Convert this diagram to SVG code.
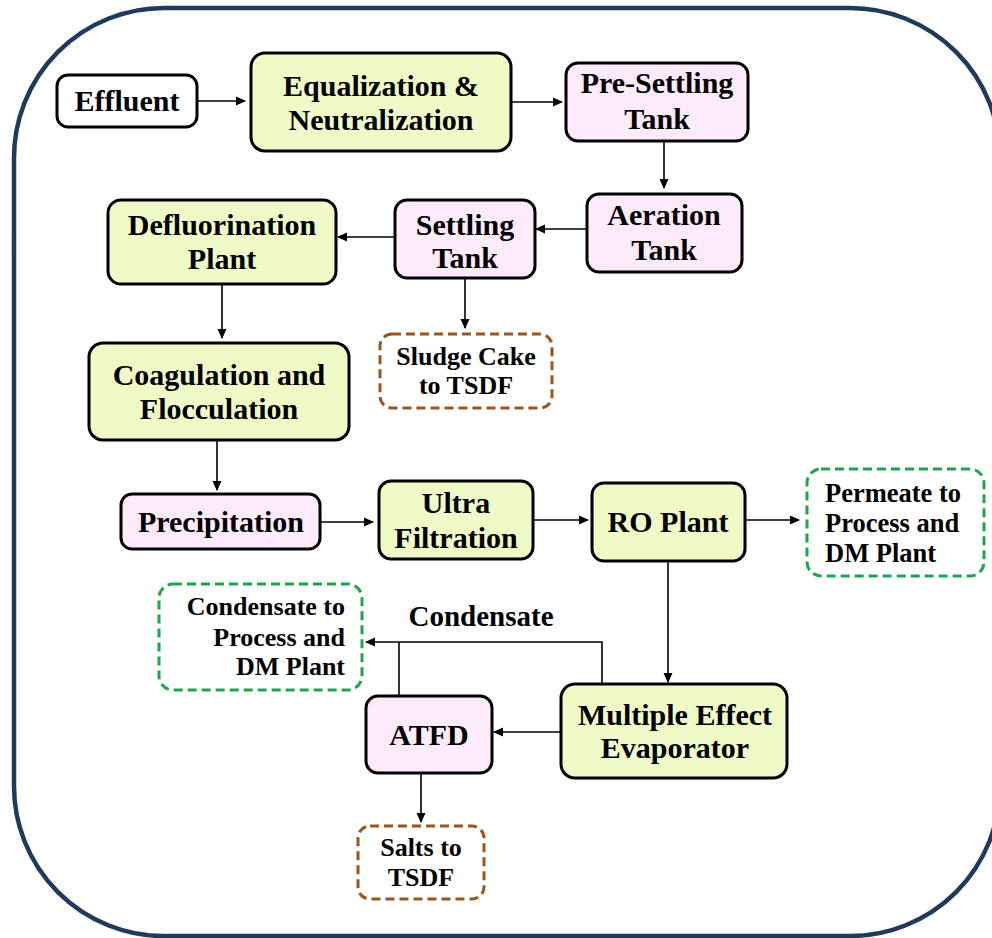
<svg xmlns="http://www.w3.org/2000/svg" width="992" height="938" viewBox="0 0 992 938">
<defs>
<marker id="ah" markerUnits="userSpaceOnUse" markerWidth="10" markerHeight="10" viewBox="0 0 10 10" refX="9" refY="5" orient="auto">
<path d="M0,0.5 L10,5 L0,9.5 Z" fill="#000"/>
</marker>
<style>
.box{stroke:#000;stroke-width:3}
.g{fill:#effac6}
.p{fill:#fdebfc}
.w{fill:#fff}
.dg{fill:#fff;stroke:#1ea552;stroke-width:3;stroke-dasharray:9 5}
.db{fill:#fff;stroke:#9c551f;stroke-width:3;stroke-dasharray:9 5}
text{font-family:"Liberation Serif","Times New Roman",serif;font-weight:bold;fill:#000}
.t{font-size:30px;text-anchor:middle}
.s{font-size:26px;text-anchor:middle}
.c{stroke:#000;stroke-width:1.6;fill:none}
</style>
</defs>
<rect x="14" y="8" width="986" height="928" rx="150" ry="150" fill="#fff" stroke="#1f3a5c" stroke-width="4.5"/>

<g id="connectors">
<line class="c" x1="197" y1="101" x2="245" y2="101" marker-end="url(#ah)"/>
<line class="c" x1="511" y1="102" x2="562" y2="102" marker-end="url(#ah)"/>
<line class="c" x1="664" y1="141" x2="664" y2="188" marker-end="url(#ah)"/>
<line class="c" x1="587" y1="229" x2="536" y2="229" marker-end="url(#ah)"/>
<line class="c" x1="395" y1="237" x2="338" y2="237" marker-end="url(#ah)"/>
<line class="c" x1="465" y1="278" x2="465" y2="328" marker-end="url(#ah)"/>
<line class="c" x1="222" y1="284" x2="222" y2="338" marker-end="url(#ah)"/>
<line class="c" x1="217" y1="440" x2="217" y2="490" marker-end="url(#ah)"/>
<line class="c" x1="320" y1="522" x2="373" y2="522" marker-end="url(#ah)"/>
<line class="c" x1="533" y1="520" x2="588" y2="520" marker-end="url(#ah)"/>
<line class="c" x1="745" y1="520" x2="799" y2="520" marker-end="url(#ah)"/>
<line class="c" x1="668" y1="561" x2="668" y2="682" marker-end="url(#ah)"/>
<polyline class="c" points="602,684 602,642 366,642" marker-end="url(#ah)"/>
<line class="c" x1="399" y1="696" x2="399" y2="642"/>
<line class="c" x1="561" y1="732" x2="494" y2="732" marker-end="url(#ah)"/>
<line class="c" x1="421" y1="773" x2="421" y2="822" marker-end="url(#ah)"/>
<text x="481" y="626" font-size="29px" text-anchor="middle">Condensate</text>
</g>

<g id="effluent">
<rect class="box w" x="57" y="75" width="140" height="52" rx="11"/>
<text class="t" x="127" y="111">Effluent</text>
</g>
<g id="equalization">
<rect class="box g" x="251" y="53" width="260" height="98" rx="14"/>
<text class="t" x="381" y="96">Equalization &amp;</text>
<text class="t" x="381" y="130">Neutralization</text>
</g>
<g id="presettling">
<rect class="box p" x="566" y="63" width="182" height="78" rx="12"/>
<text class="t" x="657" y="93">Pre-Settling</text>
<text class="t" x="657" y="129">Tank</text>
</g>
<g id="aeration">
<rect class="box p" x="587" y="194" width="155" height="78" rx="12"/>
<text class="t" x="664" y="225">Aeration</text>
<text class="t" x="664" y="260">Tank</text>
</g>
<g id="settling">
<rect class="box p" x="395" y="200" width="140" height="78" rx="12"/>
<text class="t" x="465" y="235">Settling</text>
<text class="t" x="465" y="268">Tank</text>
</g>
<g id="defluorination">
<rect class="box g" x="108" y="200" width="228" height="84" rx="13"/>
<text class="t" x="222" y="235">Defluorination</text>
<text class="t" x="222" y="269">Plant</text>
</g>
<g id="sludge">
<rect class="db" x="380" y="334" width="172" height="74" rx="12"/>
<text class="s" x="466" y="365">Sludge Cake</text>
<text class="s" x="466" y="394">to TSDF</text>
</g>
<g id="coagulation">
<rect class="box g" x="89" y="343" width="260" height="97" rx="14"/>
<text class="t" x="219" y="385">Coagulation and</text>
<text class="t" x="219" y="419">Flocculation</text>
</g>
<g id="precipitation">
<rect class="box p" x="121" y="494" width="199" height="55" rx="11"/>
<text class="t" x="221" y="532">Precipitation</text>
</g>
<g id="ultrafiltration">
<rect class="box g" x="379" y="481" width="154" height="78" rx="12"/>
<text class="t" x="456" y="513">Ultra</text>
<text class="t" x="456" y="548">Filtration</text>
</g>
<g id="roplant">
<rect class="box g" x="592" y="483" width="153" height="78" rx="12"/>
<text class="t" x="668" y="532">RO Plant</text>
</g>
<g id="permeate">
<rect class="dg" x="807" y="469" width="177" height="107" rx="14"/>
<text font-size="26.5px" x="825" y="502">Permeate to</text>
<text font-size="26.5px" x="825" y="532">Process and</text>
<text font-size="26.5px" x="825" y="562">DM Plant</text>
</g>
<g id="condensatebox">
<rect class="dg" x="159" y="584" width="203" height="106" rx="14"/>
<text font-size="26px" x="345" y="615" text-anchor="end">Condensate to</text>
<text font-size="26px" x="345" y="646" text-anchor="end">Process and</text>
<text font-size="26px" x="345" y="675" text-anchor="end">DM Plant</text>
</g>
<g id="mee">
<rect class="box g" x="561" y="684" width="226" height="94" rx="14"/>
<text class="t" x="675" y="725">Multiple Effect</text>
<text class="t" x="675" y="758">Evaporator</text>
</g>
<g id="atfd">
<rect class="box p" x="366" y="696" width="126" height="77" rx="12"/>
<text class="t" x="429" y="745">ATFD</text>
</g>
<g id="salts">
<rect class="db" x="358" y="826" width="126" height="73" rx="12"/>
<text class="s" x="421" y="856">Salts to</text>
<text class="s" x="421" y="886">TSDF</text>
</g>
</svg>
